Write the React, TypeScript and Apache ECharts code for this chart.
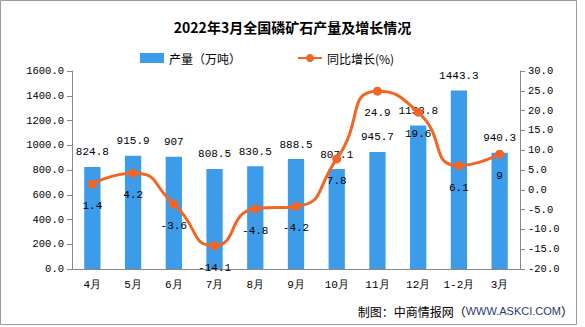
import React, { useEffect, useRef } from "react";
import * as echarts from "echarts";

const categories = ["4月", "5月", "6月", "7月", "8月", "9月", "10月", "11月", "12月", "1-2月", "3月"];
const output = [824.8, 915.9, 907, 808.5, 830.5, 888.5, 807.1, 945.7, 1158.8, 1443.3, 940.3];
const growth = [1.4, 4.2, -3.6, -14.1, -4.8, -4.2, 7.8, 24.9, 19.6, 6.1, 9];

const MONO = "'Liberation Mono', 'DejaVu Sans Mono', monospace";
const CJK = "'Noto Sans CJK SC', sans-serif";

export default function App() {
  const ref = useRef<HTMLDivElement>(null);
  useEffect(() => {
    const chart = echarts.init(ref.current!, null, { renderer: "svg" });
    chart.setOption({
      animation: false,
      backgroundColor: "#fff",
      title: {
        text: "2022年3月全国磷矿石产量及增长情况",
        left: "center",
        top: 15,
        textStyle: { fontFamily: CJK, fontSize: 14, fontWeight: "bold", color: "#000" },
      },
      legend: {
        top: 47,
        left: 135,
        itemGap: 56,
        textStyle: { fontFamily: CJK, fontSize: 12, color: "#000" },
        data: [
          { name: "产量（万吨）", icon: "rect", itemStyle: { color: "#3d9ce9" } },
          { name: "同比增长(%)" },
        ],
        itemWidth: 24,
        itemHeight: 10,
      },
      grid: { left: 72, right: 65, top: 71, bottom: 58 },
      xAxis: {
        type: "category",
        data: categories,
        axisLine: { lineStyle: { color: "#888" } },
        axisTick: { lineStyle: { color: "#888" }, length: 5 },
        axisLabel: { color: "#000", fontFamily: MONO, fontSize: 11, margin: 10 },
      },
      yAxis: [
        {
          type: "value",
          min: 0,
          max: 1600,
          interval: 200,
          splitLine: { show: false },
          axisLine: { show: true, lineStyle: { color: "#888" } },
          axisTick: { show: true, lineStyle: { color: "#888" }, length: 5 },
          axisLabel: { color: "#000", fontFamily: MONO, fontSize: 10.5, formatter: (v: number) => v.toFixed(1) },
        },
        {
          type: "value",
          min: -20,
          max: 30,
          interval: 5,
          splitLine: { show: false },
          axisLine: { show: true, lineStyle: { color: "#888" } },
          axisTick: { show: true, lineStyle: { color: "#888" }, length: 5 },
          axisLabel: { color: "#000", fontFamily: MONO, fontSize: 10.5, formatter: (v: number) => v.toFixed(1) },
        },
      ],
      series: [
        {
          name: "产量（万吨）",
          type: "bar",
          data: output,
          barWidth: "40%",
          itemStyle: { color: "#3d9ce9" },
          label: {
            show: true,
            position: "top",
            distance: 9,
            color: "#000",
            fontFamily: MONO,
            fontSize: 11,
          },
        },
        {
          name: "同比增长(%)",
          type: "line",
          yAxisIndex: 1,
          data: growth,
          smooth: 0.6,
          symbol: "circle",
          symbolSize: 9,
          lineStyle: { color: "#f26522", width: 3 },
          itemStyle: { color: "#f26522" },
          label: {
            show: true,
            position: "bottom",
            distance: 12,
            color: "#000",
            fontFamily: MONO,
            fontSize: 11,
          },
          z: 5,
        },
      ],
      graphic: [
        {
          type: "rect",
          shape: { x: 0.5, y: 0.5, width: 576, height: 324 },
          style: { fill: "none", stroke: "#999", lineWidth: 1 },
          silent: true,
        },
        {
          type: "text",
          right: 12,
          top: 305,
          style: {
            text: "制图：中商情报网（{a|WWW.ASKCI.COM}）",
            fontFamily: CJK,
            fontSize: 12,
            fill: "#000",
            rich: {
              a: { fontFamily: "'Liberation Sans', sans-serif", fontSize: 11, fill: "#1f3a7a", color: "#1f3a7a" },
            },
          },
        },
      ],
    });
    return () => chart.dispose();
  }, []);
  return <div ref={ref} style={{ width: 585, height: 327, position: "fixed", left: 0, top: 0 }} />;
}
